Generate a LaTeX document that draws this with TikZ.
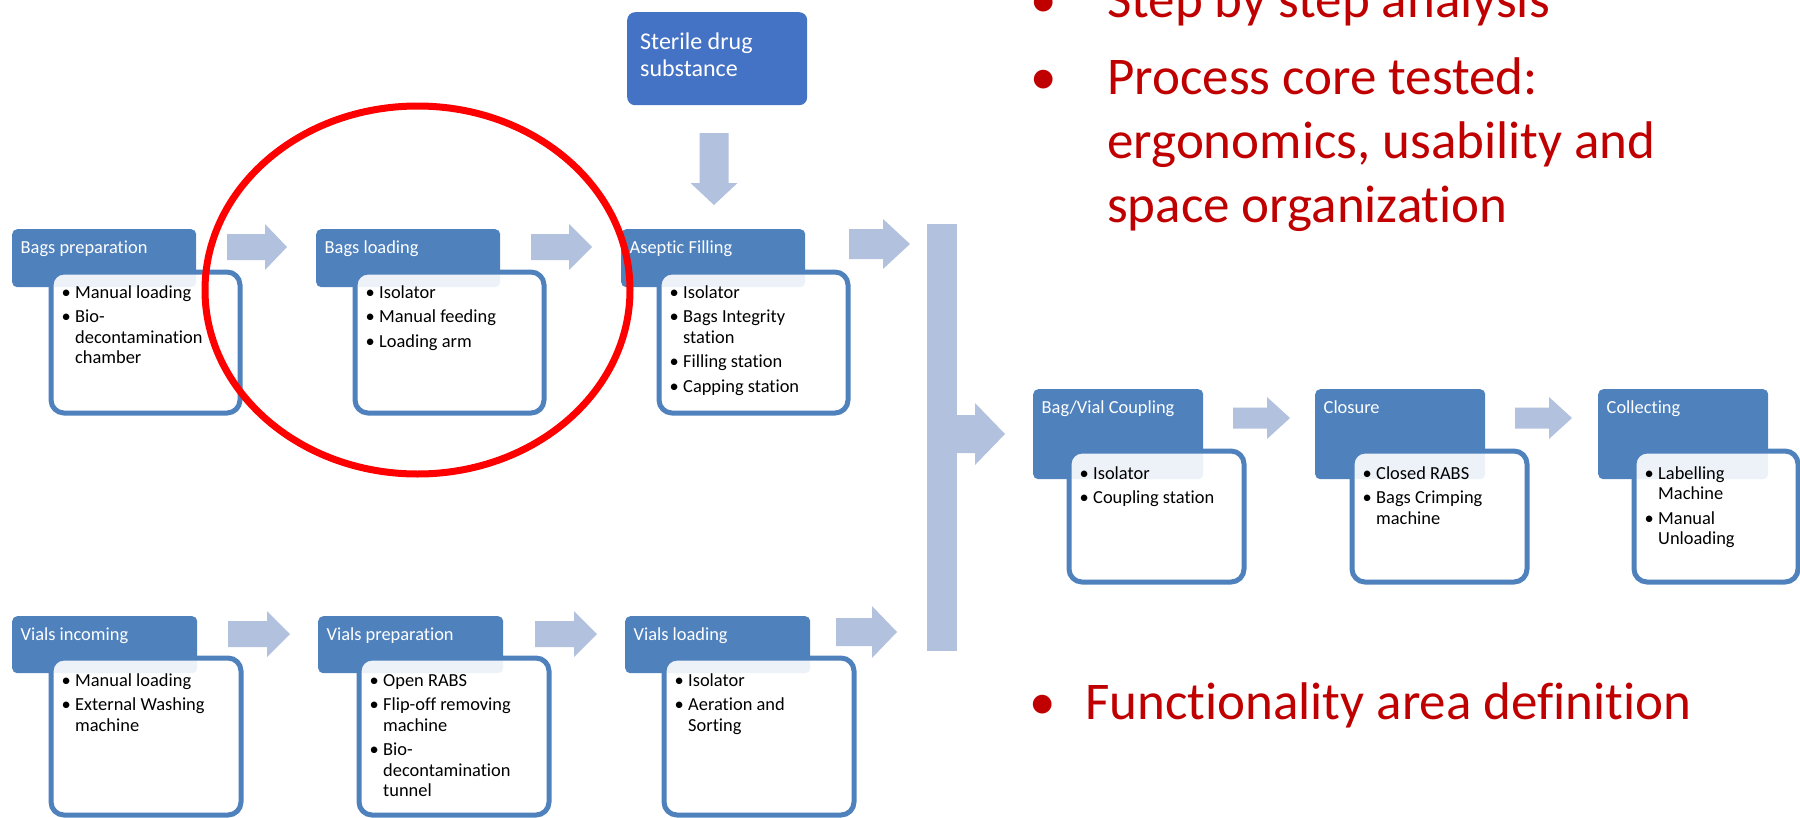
\documentclass[tikz,border=0pt]{standalone}
\usepackage{fontspec}
\setmainfont{Carlito}[Ligatures={NoCommon}]
\definecolor{hdrblue}{HTML}{4F81BD}
\definecolor{srcblue}{HTML}{4472C4}
\definecolor{flowfill}{HTML}{B1C1DE}
\definecolor{notered}{HTML}{C00000}
\definecolor{ringred}{HTML}{FF0000}
\hbadness=10000
\hfuzz=50pt

% bullet list set in a \vtop so that the node's base is the first baseline
\newcommand{\steplist}[1]{\vtop{\hsize=300pt\parindent=0pt\parskip=0pt\fontsize{18.4}{20.5}\selectfont #1}}
\newcommand{\itm}[1]{\hangindent=14pt\hangafter=1\noindent\hbox to 14pt{\hbox to 10pt{\hss\textbullet\hss}\hss}#1\par}
\newcommand{\gap}{\vskip4pt}

% one process stage: header tab, title, body card, bullet list
% #1 name, #2/#3 header top-left, #4/#5 body outer top-left, #6 title, #7 items
\newcommand{\stage}[7]{%
  \node[hdr, anchor=north west] (#1h) at (#2,#3) {};
  \node[hdrtext, anchor=base west] (#1t) at (#2+8.5,#3+24) {#6};
  \node[bodybox, anchor=north west] (#1b) at (#4+2.5,#5+2.5) {};
  \node[listtext, anchor=base west] (#1l) at (#4+15,#5+\listdrop) {\steplist{#7}};
}

% right-pointing block arrow: #1 left x, #2 centre y, #3 length, #4 head height, #5 shaft height, #6 head length
\newcommand{\flowR}[6]{%
  \fill[flow] (#1,#2-#5/2) -- (#1+#3-#6,#2-#5/2) -- (#1+#3-#6,#2-#4/2) -- (#1+#3,#2)
    -- (#1+#3-#6,#2+#4/2) -- (#1+#3-#6,#2+#5/2) -- (#1,#2+#5/2) -- cycle;}
% downward block arrow: #1 centre x, #2 top y, #3 length, #4 head width, #5 shaft width, #6 head length
\newcommand{\flowD}[6]{%
  \fill[flow] (#1-#5/2,#2) -- (#1-#5/2,#2+#3-#6) -- (#1-#4/2,#2+#3-#6) -- (#1,#2+#3)
    -- (#1+#4/2,#2+#3-#6) -- (#1+#5/2,#2+#3-#6) -- (#1+#5/2,#2) -- cycle;}

\tikzset{
  hdr/.style={fill=hdrblue, rounded corners=5pt, inner sep=0pt},
  hdrtext/.style={text=white, font=\fontsize{18.4}{21}\selectfont, inner sep=0pt},
  bodybox/.style={draw=hdrblue, line width=5pt, fill=white, fill opacity=0.9, rounded corners=13pt, inner sep=0pt},
  listtext/.style={inner sep=0pt, text=black},
  flow/.style={fill=flowfill},
  notetext/.style={inner sep=0pt, text=notered, anchor=base west},
}

\begin{document}
\begin{tikzpicture}[x=1pt, y=-1pt]
\useasboundingbox (0,0) rectangle (1800,817);
\clip (0,0) rectangle (1800,817);

% sterile drug substance source
\node[fill=srcblue, rounded corners=8pt, inner sep=0pt, minimum width=180pt, minimum height=93pt, anchor=north west] (src) at (627,12) {};
\node[inner sep=0pt, text=white, anchor=base west] (srct) at (640,49)
  {\vtop{\hsize=200pt\parindent=0pt\fontsize{24}{27}\selectfont Sterile drug\par substance}};
\flowD{714}{133}{72}{47}{29}{22}

% bags line
\begin{scope}[hdr/.append style={minimum width=184pt, minimum height=58pt},
              bodybox/.append style={minimum width=189pt, minimum height=141pt}]
\def\listdrop{31}
\stage{bp}{12}{229}{46}{267}{Bags preparation}{\itm{Manual loading}\gap\itm{Bio-\newline decontamination\newline chamber}}
\stage{bl}{316}{229}{350}{267}{Bags loading}{\itm{Isolator}\gap\itm{Manual feeding}\gap\itm{Loading arm}}
\stage{af}{621}{229}{654}{267}{Aseptic Filling}{\itm{Isolator}\gap\itm{Bags Integrity\newline station}\gap\itm{Filling station}\gap\itm{Capping station}}
\end{scope}
\flowR{227}{247}{60}{46}{26}{22}
\flowR{531}{247}{61}{46}{26}{23}
\flowR{849}{244}{61}{50}{30}{27}

% vials line
\begin{scope}[hdr/.append style={minimum width=185pt, minimum height=57pt},
              bodybox/.append style={minimum width=190pt, minimum height=157pt}]
\def\listdrop{33}
\stage{vi}{12}{616}{46}{653}{Vials incoming}{\itm{Manual loading}\gap\itm{External Washing\newline machine}}
\stage{vp}{318}{616}{354}{653}{Vials preparation}{\itm{Open RABS}\gap\itm{Flip-off removing\newline machine}\gap\itm{Bio-\newline decontamination\newline tunnel}}
\stage{vl}{625}{616}{659}{653}{Vials loading}{\itm{Isolator}\gap\itm{Aeration and\newline Sorting}}
\end{scope}
\flowR{228}{634}{62}{46}{26}{23}
\flowR{535}{634}{62}{46}{26}{23}
\flowR{836}{632}{61}{52}{28}{25}

% merging bar
\fill[flow] (927,224) rectangle (957,651);
\flowR{955}{434}{50}{62}{38}{30}

% final line
\begin{scope}[hdr/.append style={minimum width=170pt, minimum height=90pt},
              bodybox/.append style={minimum width=175pt, minimum height=131pt}]
\def\listdrop{33}
\stage{bv}{1033}{389}{1064}{446}{Bag/Vial Coupling}{\itm{Isolator}\gap\itm{Coupling station}}
\stage{cl}{1315}{389}{1347}{446}{Closure}{\itm{Closed RABS}\gap\itm{Bags Crimping\newline machine}}
\begin{scope}[bodybox/.append style={minimum width=164pt}]
\stage{co}{1598}{389}{1629}{446}{Collecting}{\itm{Labelling\newline Machine}\gap\itm{Manual\newline Unloading}}
\end{scope}
\end{scope}
\flowR{1233}{418}{57}{42}{21}{23}
\flowR{1515}{418}{57}{42}{21}{23}

% notes
\node[notetext] (notes) at (1107,17) {\vtop{\hsize=700pt\parindent=0pt\fontsize{53}{64}\selectfont
  \noindent\llap{\makebox[0pt]{\textbullet}\hskip64pt}Step by step analysis\par\vskip13pt
  \noindent\llap{\makebox[0pt]{\textbullet}\hskip64pt}Process core tested:\newline ergonomics, usability and\newline space organization\par}};
\node[notetext] (func) at (1085,719) {\fontsize{53}{64}\selectfont\llap{\makebox[0pt]{\textbullet}\hskip43pt}Functionality area definition};

% highlight ring
\draw[ringred, line width=7pt] (417.5,290) ellipse [x radius=212.5pt, y radius=184pt];
\end{tikzpicture}
\end{document}
